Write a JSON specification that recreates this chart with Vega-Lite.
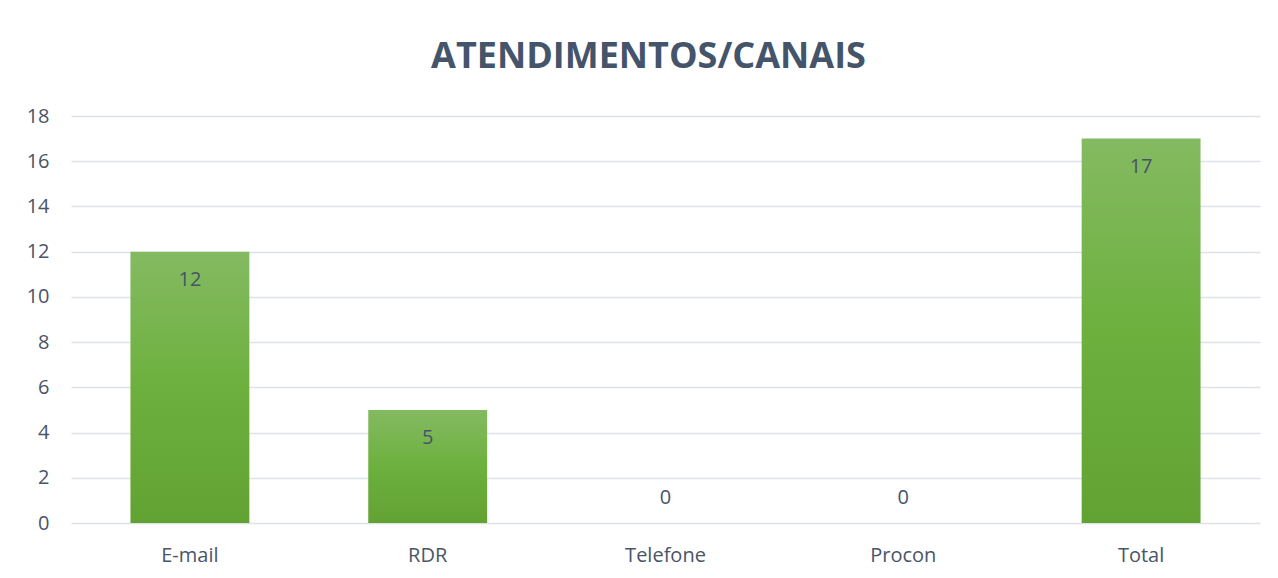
{
  "$schema": "https://vega.github.io/schema/vega-lite/v6.json",
  "autosize": {"type": "none"},
  "width": 1189,
  "height": 407,
  "padding": {"left": 71, "top": 116, "right": 18, "bottom": 55},
  "background": "white",
  "title": {
    "text": "ATENDIMENTOS/CANAIS",
    "font": "Open Sans",
    "fontSize": 36,
    "fontWeight": "bold",
    "color": "#44546A",
    "anchor": "middle",
    "dx": -17,
    "offset": 30
  },
  "data": {
    "values": [
      {"canal": "E-mail", "valor": 12},
      {"canal": "RDR", "valor": 5},
      {"canal": "Telefone", "valor": 0},
      {"canal": "Procon", "valor": 0},
      {"canal": "Total", "valor": 17}
    ]
  },
  "encoding": {
    "x": {
      "field": "canal",
      "type": "nominal",
      "sort": null,
      "scale": {"paddingInner": 0.5, "paddingOuter": 0.25},
      "axis": {
        "title": null,
        "labelAngle": 0,
        "ticks": false,
        "domain": false,
        "labelPadding": 22,
        "labelFont": "Open Sans",
        "labelFontSize": 20,
        "labelColor": "#4A5568"
      }
    },
    "y": {
      "field": "valor",
      "type": "quantitative",
      "scale": {"domain": [0, 18], "nice": false},
      "axis": {
        "title": null,
        "values": [0, 2, 4, 6, 8, 10, 12, 14, 16, 18],
        "ticks": false,
        "domain": false,
        "labelPadding": 22,
        "labelFont": "Open Sans",
        "labelFontSize": 20,
        "labelColor": "#4A5568",
        "gridColor": "#DEE2E8",
        "gridWidth": 1.5
      }
    }
  },
  "layer": [
    {
      "mark": {
        "type": "bar",
        "color": {
          "gradient": "linear",
          "x1": 0, "y1": 0, "x2": 0, "y2": 1,
          "stops": [
            {"offset": 0, "color": "#84BA61"},
            {"offset": 0.5, "color": "#6DB03E"},
            {"offset": 1, "color": "#62A232"}
          ]
        }
      }
    },
    {
      "transform": [{"filter": "datum.valor > 0"}],
      "mark": {"type": "text", "baseline": "middle", "dy": 28, "font": "Open Sans", "fontSize": 20, "color": "#44546A"},
      "encoding": {"text": {"field": "valor", "type": "quantitative"}}
    },
    {
      "transform": [{"filter": "datum.valor == 0"}],
      "mark": {"type": "text", "baseline": "middle", "dy": -25, "font": "Open Sans", "fontSize": 20, "color": "#44546A"},
      "encoding": {"text": {"field": "valor", "type": "quantitative"}}
    }
  ],
  "config": {"view": {"stroke": null}}
}
